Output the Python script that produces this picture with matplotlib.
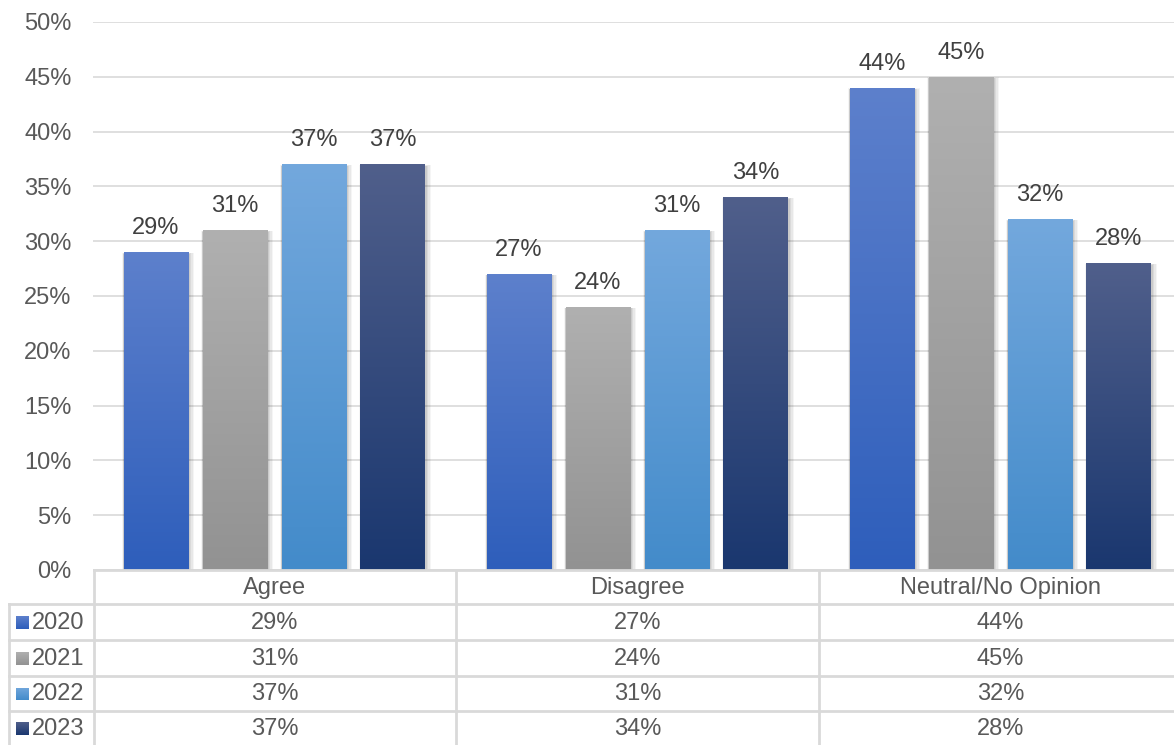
import numpy as np
import matplotlib
matplotlib.use("Agg")
import matplotlib.pyplot as plt
from matplotlib.colors import LinearSegmentedColormap
from matplotlib.patches import Rectangle

plt.rcParams['font.family'] = ['Liberation Sans', 'DejaVu Sans']

categories = ["Agree", "Disagree", "Neutral/No Opinion"]
years = ["2020", "2021", "2022", "2023"]
values = {
    "2020": [29, 27, 44],
    "2021": [31, 24, 45],
    "2022": [37, 31, 32],
    "2023": [37, 34, 28],
}
# (top colour, bottom colour) for each series gradient
gradients = {
    "2020": ("#5d80cc", "#2e5ebb"),
    "2021": ("#b0b0b0", "#929292"),
    "2022": ("#73a8dd", "#438bca"),
    "2023": ("#505f8b", "#1a376f"),
}

W, H = 1174, 745
FS = 17
fig = plt.figure(figsize=(W / 100, H / 100), dpi=100)
# plot area runs slightly past the right edge of the canvas
ax = fig.add_axes([93 / W, (H - 570) / H, (1182 - 93) / W, (570 - 22) / H])

ncat = len(categories)
ax.set_xlim(0, ncat)
ax.set_ylim(0, 50)
ax.set_yticks(np.arange(0, 51, 5))
ax.set_yticklabels([f"{v}%" for v in range(0, 51, 5)])
ax.set_xticks([])
ax.tick_params(axis='y', length=0, pad=15.5, labelsize=FS, labelcolor="#595959")
for s in ax.spines.values():
    s.set_visible(False)
ax.grid(axis='y', color="#d9d9d9", linewidth=1.2)
ax.set_axisbelow(True)

bar_w = 0.179
pitch = 0.2176
offsets = (np.arange(len(years)) - (len(years) - 1) / 2) * pitch

grad = np.linspace(0, 1, 256).reshape(-1, 1)
for i, yr in enumerate(years):
    top, bot = gradients[yr]
    cmap = LinearSegmentedColormap.from_list(yr, [bot, top])
    for j, v in enumerate(values[yr]):
        x0 = j + 0.5 + offsets[i] - bar_w / 2
        # soft drop shadow
        for k, a in enumerate([0.04, 0.05, 0.06, 0.07]):
            d = 0.012 - k * 0.003
            ax.add_patch(Rectangle((x0 - d * 0.3, 0), bar_w + d * 1.6, v + d * 8 - 0.15,
                                   facecolor="black", alpha=a, linewidth=0, zorder=2))
        bar = ax.bar(j + 0.5 + offsets[i], v, width=bar_w, color="none", zorder=3)[0]
        im = ax.imshow(grad, cmap=cmap, aspect='auto', origin='lower',
                       extent=[x0, x0 + bar_w, 0, v], zorder=3)
        im.set_clip_path(bar)
        ax.text(j + 0.5 + offsets[i], v + 1.2, f"{v}%", ha='center', va='bottom',
                fontsize=FS, color="#404040", zorder=4)

ax.set_xlim(0, ncat)
ax.set_ylim(0, 50)


def fx(px):
    return px / W


def fy(py):
    return 1 - py / H


# data table below the plot area
lc = "#d9d9d9"
lw = 2.0
row_edges = [570, 604, 640, 676, 711, 745]
col_edges = [94, 456, 819, 1182]
fig.add_artist(plt.Line2D([fx(94), fx(1174)], [fy(570), fy(570)], color=lc, lw=lw))
for ry in row_edges[1:5]:
    fig.add_artist(plt.Line2D([fx(9), fx(1174)], [fy(ry), fy(ry)], color=lc, lw=lw))
fig.add_artist(plt.Line2D([fx(9), fx(9)], [fy(604), fy(745)], color=lc, lw=lw))
for cx in col_edges[:3]:
    fig.add_artist(plt.Line2D([fx(cx), fx(cx)], [fy(570), fy(745)], color=lc, lw=lw))

tc = "#595959"
for j, c in enumerate(categories):
    cx = (col_edges[j] + col_edges[j + 1]) / 2
    fig.text(fx(cx), fy((row_edges[0] + row_edges[1]) / 2 + 1), c, ha='center',
             va='center', fontsize=FS, color=tc)
for i, yr in enumerate(years):
    cy = (row_edges[i + 1] + row_edges[i + 2]) / 2 + 1
    top, bot = gradients[yr]
    sq = fig.add_axes([fx(16), fy(cy + 6), fx(13), 13 / H])
    sq.imshow(grad, cmap=LinearSegmentedColormap.from_list("s" + yr, [bot, top]),
              aspect='auto', origin='lower')
    sq.set_axis_off()
    fig.text(fx(32), fy(cy), yr, ha='left', va='center', fontsize=FS, color=tc)
    for j, v in enumerate(values[yr]):
        cx = (col_edges[j] + col_edges[j + 1]) / 2
        fig.text(fx(cx), fy(cy), f"{v}%", ha='center', va='center', fontsize=FS, color=tc)

fig.savefig("out.png", dpi=100, facecolor="white")
